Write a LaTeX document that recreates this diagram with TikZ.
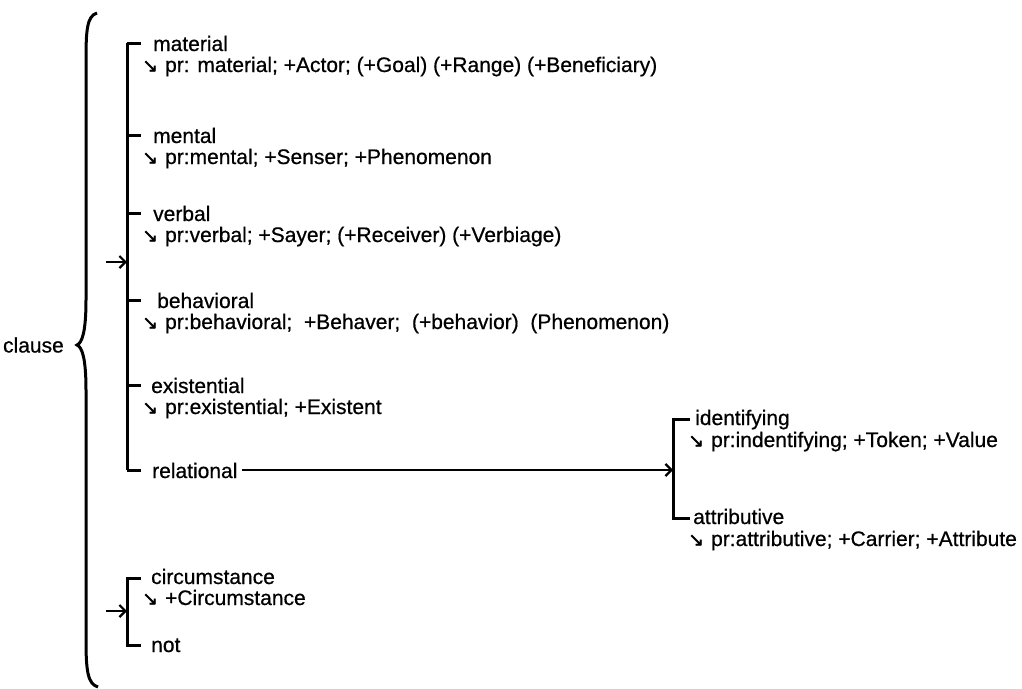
\documentclass[tikz,border=0pt]{standalone}
\usepackage{fontspec}
\setmainfont{Liberation Sans}[UprightFeatures={FakeBold=0.6}]
\newfontfamily\arrowfont{DejaVu Sans}[UprightFeatures={FakeBold=1.5}]
\usetikzlibrary{arrows.meta}

\newcommand{\dn}{{\arrowfont\fontsize{19}{19}\selectfont ↘}\hspace{7pt}}

\begin{document}
\begin{tikzpicture}[x=1pt,y=-1pt,
    every node/.style={inner sep=0pt,font=\fontsize{21}{23}\selectfont},
    lbl/.style={anchor=base west},
    sys/.style={line width=3pt},
    tip/.style={-{Straight Barb[length=6pt,width=12pt,line width=2.2pt]},line width=2pt}]
  \useasboundingbox (0,0) rectangle (1022,688);

  % brace
  \draw[line width=3pt] (97,13) .. controls (87,16) and (86,30) .. (86,60)
    -- (86,300) .. controls (86,332) and (82,343) .. (77,345)
    .. controls (82,347) and (86,358) .. (86,390)
    -- (86,640) .. controls (86,672) and (88,684) .. (98,687);
  \node[anchor=east] (clause) at (64,345) {clause};

  % process type
  \draw[sys] (127,43) -- (127,470);
  \foreach \y in {43,135,213,300,385,470}
    \draw[sys] (127,\y) -- (141,\y);
  \coordinate (ptin) at (106,262);
  \draw[tip] (ptin) -- (127,262);

  \node[lbl] (mat) at (153,51) {material};
  \node[lbl] (matpr) at (142,72) {\dn pr: material; +Actor; (+Goal) (+Range) (+Beneficiary)};
  \node[lbl] (men) at (153,143) {mental};
  \node[lbl] (menpr) at (142,164) {\dn pr:mental; +Senser; +Phenomenon};
  \node[lbl] (ver) at (153,221) {verbal};
  \node[lbl] (verpr) at (142,242) {\dn pr:verbal; +Sayer; (+Receiver) (+Verbiage)};
  \node[lbl] (beh) at (157,308) {behavioral};
  \node[lbl] (behpr) at (142,329) {\dn pr:behavioral; \ +Behaver; \ (+behavior) \ (Phenomenon)};
  \node[lbl] (ext) at (151,393) {existential};
  \node[lbl] (extpr) at (142,414) {\dn pr:existential; +Existent};
  \node[lbl] (rel) at (152,478) {relational};

  % relational type
  \coordinate (relin) at (673,470);
  \draw[tip,line width=1.6pt] ([xshift=4pt]rel.east |- relin) -- (relin);
  \draw[sys] (690,419) -- (673,419) -- (673,518) -- (690,518);
  \node[lbl] (idf) at (695,425) {identifying};
  \node[lbl] (idfpr) at (688,447) {\dn pr:indentifying; +Token; +Value};
  \node[lbl] (att) at (693,524) {attributive};
  \node[lbl] (attpr) at (688,546) {\dn pr:attributive; +Carrier; +Attribute};

  % circumstance
  \draw[sys] (141,578) -- (127,578) -- (127,645) -- (141,645);
  \coordinate (cin) at (106,611);
  \draw[tip] (cin) -- (127,611);
  \node[lbl] (circ) at (151,584) {circumstance};
  \node[lbl] (circpr) at (142,605) {\dn +Circumstance};
  \node[lbl] (nt) at (151,652) {not};
\end{tikzpicture}
\end{document}
